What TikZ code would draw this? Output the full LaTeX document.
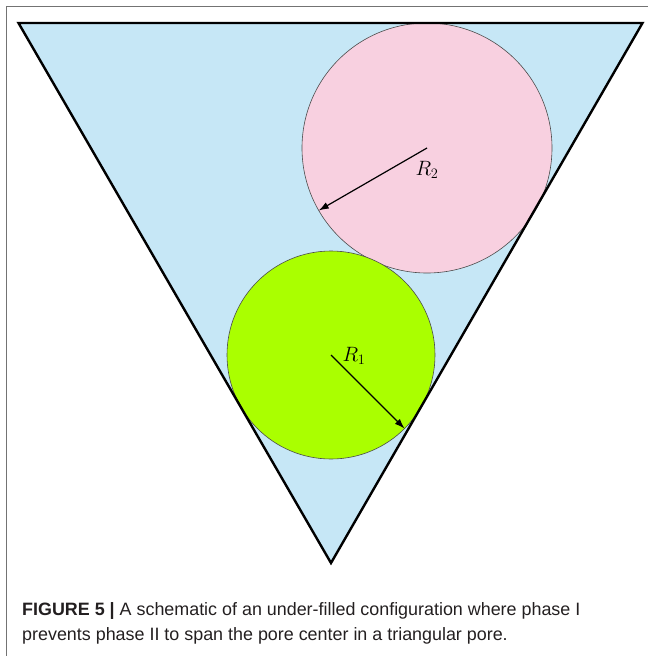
\documentclass[tikz,border=0pt]{standalone}
\usepackage{fontspec}
\setsansfont{Liberation Sans}
\usetikzlibrary{arrows.meta,calc}
\definecolor{poreblue}{RGB}{198,231,246}
\definecolor{phasepink}{RGB}{248,208,224}
\definecolor{phasegreen}{RGB}{170,255,0}
\definecolor{captext}{RGB}{35,31,32}
\tikzset{
  phasecircle/.style={draw=black!70, line width=0.6pt},
  radarrow/.style={draw=black, line width=1.2pt, -{Latex[length=10pt,width=7pt]}},
  radlabel/.style={inner sep=0pt, font=\fontsize{22}{24}\selectfont},
  captionline/.style={anchor=base west, inner sep=0pt, text=captext, font=\sffamily\fontsize{17.9}{20}\selectfont}
}
\begin{document}
\begin{tikzpicture}[x=1pt, y=-1pt]
\useasboundingbox (0,0) rectangle (648,656);
% frame
\draw[black!55, line width=1.2pt] (6.5,656) -- (6.5,6.5) -- (648,6.5);
% pore
\coordinate (tl) at (18.5,23);
\coordinate (tr) at (642.5,23);
\coordinate (ap) at (331,563);
\fill[poreblue] (tl) -- (tr) -- (ap) -- cycle;
% phases
\coordinate (c2) at (427,148);
\coordinate (c1) at (331,355);
\filldraw[phasecircle, fill=phasepink] (c2) circle[radius=125];
\filldraw[phasecircle, fill=phasegreen] (c1) circle[radius=104];
\draw[black, line width=2.4pt, line join=miter] (tl) -- (tr) -- (ap) -- cycle;
% radii
\coordinate (e2) at ($(c2)+(150:125)$);
\coordinate (e1) at ($(c1)+(45:104)$);
\draw[radarrow] (c2) -- (e2);
\draw[radarrow] (c1) -- (e1);
\node[radlabel] (r2) at (427,170) {$R_2$};
\node[radlabel] (r1) at (354,356) {$R_1$};
% caption
\node[captionline] (cap1) at (22,615) {\textbf{FIGURE 5 |} A schematic of an under-filled configuration where phase I};
\node[captionline] (cap2) at (22,640) {prevents phase II to span the pore center in a triangular pore.};
\end{tikzpicture}
\end{document}
